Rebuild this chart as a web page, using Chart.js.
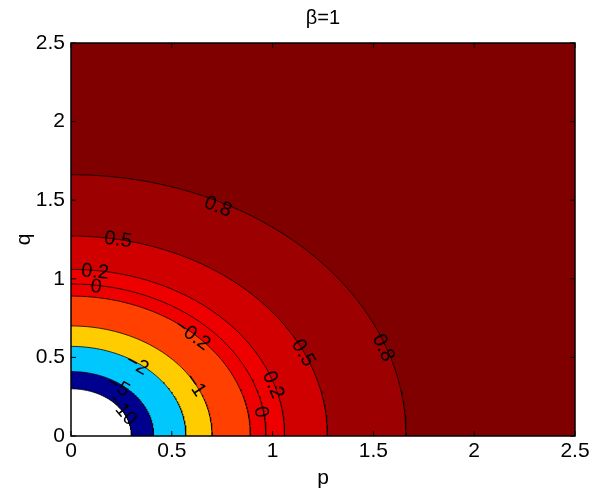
<!DOCTYPE html>
<html>
<head>
<meta charset="utf-8">
<script src="https://cdn.jsdelivr.net/npm/chart.js@4/dist/chart.umd.min.js"></script>
<style>
  html, body { margin: 0; padding: 0; background: #fff; }
  #wrap { width: 593px; height: 493px; }
</style>
</head>
<body>
<div id="wrap"><canvas id="myChart"></canvas></div>
<script>
// contour levels and the radius (in p/q units) where each one sits
const levels = [-10, -5, -2, -1, -0.2, 0, 0.2, 0.5, 0.8];
const radii = [0.30, 0.41, 0.57, 0.70, 0.89, 0.967, 1.06, 1.272, 1.662];
// colour of the band just inside each contour, plus the outer band
const bandColors = ['#ffffff', '#00008f', '#00c8ff', '#ffcc00', '#ff4000', '#ee0000', '#ee0000', '#d00000', '#9c0000'];
const outerColor = '#800000';
const tickValues = [0, 0.5, 1, 1.5, 2, 2.5];

// contour label texts and where they sit (p, q)
const labelText = ['0.8', '0.8', '0.5', '0.5', '0.2', '0.2', '0', '0', '−0.2', '−1', '−2', '−5', '−10'];
const labelP = [0.729, 1.548, 0.233, 1.151, 0.119, 1.002, 0.124, 0.942, 0.600, 0.615, 0.327, 0.233, 0.253];
const labelQ = [1.457, 0.560, 1.247, 0.528, 1.043, 0.324, 0.948, 0.153, 0.642, 0.324, 0.452, 0.312, 0.165];

const FONT = '"Liberation Sans", Arial, sans-serif';

// quarter arc for a contour of radius r
function arc(r) {
    const pts = [];
    const n = 120;
    for (let i = 0; i <= n; i++) {
        const t = (Math.PI / 2) * i / n;
        pts.push({ x: r * Math.sin(t), y: r * Math.cos(t) });
    }
    return pts;
}

const datasets = [];
// smallest contour first so it is drawn on top
for (let i = 0; i < levels.length; i++) {
    datasets.push({
        label: `${levels[i]}`,
        data: arc(radii[i]),
        showLine: true,
        fill: 'origin',
        backgroundColor: bandColors[i],
        borderColor: '#000',
        borderWidth: 0.8,
        pointRadius: 0,
        order: i
    });
}
datasets.push({
    label: 'outer',
    data: [{ x: 0, y: 2.5 }, { x: 2.5, y: 2.5 }],
    showLine: true,
    fill: 'origin',
    backgroundColor: outerColor,
    borderWidth: 0,
    pointRadius: 0,
    order: levels.length
});

const frame = {
    id: 'frame',
    afterDatasetsDraw(chart) {
        const { ctx, chartArea: a, scales } = chart;
        const xs = scales.x, ys = scales.y;
        ctx.save();
        // contour labels
        ctx.fillStyle = '#000';
        ctx.font = '20px ' + FONT;
        ctx.textAlign = 'center';
        ctx.textBaseline = 'middle';
        const sx = (xs.getPixelForValue(1) - xs.getPixelForValue(0));
        const sy = (ys.getPixelForValue(0) - ys.getPixelForValue(1));
        labelText.forEach((t, i) => {
            const px = xs.getPixelForValue(labelP[i]);
            const py = ys.getPixelForValue(labelQ[i]);
            const ang = Math.atan2(labelP[i] * sy, labelQ[i] * sx);
            ctx.save();
            ctx.translate(px, py);
            ctx.rotate(ang);
            ctx.fillText(t, 0, 0);
            ctx.restore();
        });
        // inward ticks on all four sides
        ctx.strokeStyle = '#000';
        ctx.lineWidth = 1;
        ctx.beginPath();
        tickValues.forEach(v => {
            const x = xs.getPixelForValue(v);
            ctx.moveTo(x, a.bottom); ctx.lineTo(x, a.bottom - 5);
            ctx.moveTo(x, a.top); ctx.lineTo(x, a.top + 5);
            const y = ys.getPixelForValue(v);
            ctx.moveTo(a.left, y); ctx.lineTo(a.left + 5, y);
            ctx.moveTo(a.right, y); ctx.lineTo(a.right - 5, y);
        });
        ctx.stroke();
        ctx.lineWidth = 1.5;
        ctx.strokeRect(a.left, a.top, a.right - a.left, a.bottom - a.top);
        // title
        ctx.font = '20px ' + FONT;
        ctx.textBaseline = 'middle';
        ctx.fillText('β=1', (a.left + a.right) / 2, 18);
        ctx.restore();
    }
};

const tickFont = { family: FONT, size: 21 };

new Chart(document.querySelector('#myChart'), {
    type: 'scatter',
    data: { datasets },
    options: {
        responsive: true,
        maintainAspectRatio: false,
        animation: false,
        layout: { padding: { left: 0, right: 18, top: 43, bottom: 0 } },
        plugins: {
            legend: { display: false },
            tooltip: { enabled: false },
            filler: { propagate: false }
        },
        scales: {
            x: {
                type: 'linear',
                min: 0, max: 2.5,
                afterFit: s => { s.height = 57; },
                grid: { display: false, drawTicks: false },
                border: { display: false },
                ticks: { stepSize: 0.5, padding: 3, color: '#000', font: tickFont, callback: v => `${v}` },
                title: { display: true, text: 'p', color: '#000', padding: { top: 2, bottom: 2 }, font: tickFont }
            },
            y: {
                type: 'linear',
                min: 0, max: 2.5,
                afterFit: s => { s.width = 71; },
                grid: { display: false, drawTicks: false },
                border: { display: false },
                ticks: { stepSize: 0.5, padding: 6, color: '#000', font: tickFont, callback: v => `${v}` },
                title: { display: true, text: 'q', color: '#000', padding: { top: 12, bottom: 12 }, font: tickFont }
            }
        }
    },
    plugins: [frame]
});
</script>
</body>
</html>
